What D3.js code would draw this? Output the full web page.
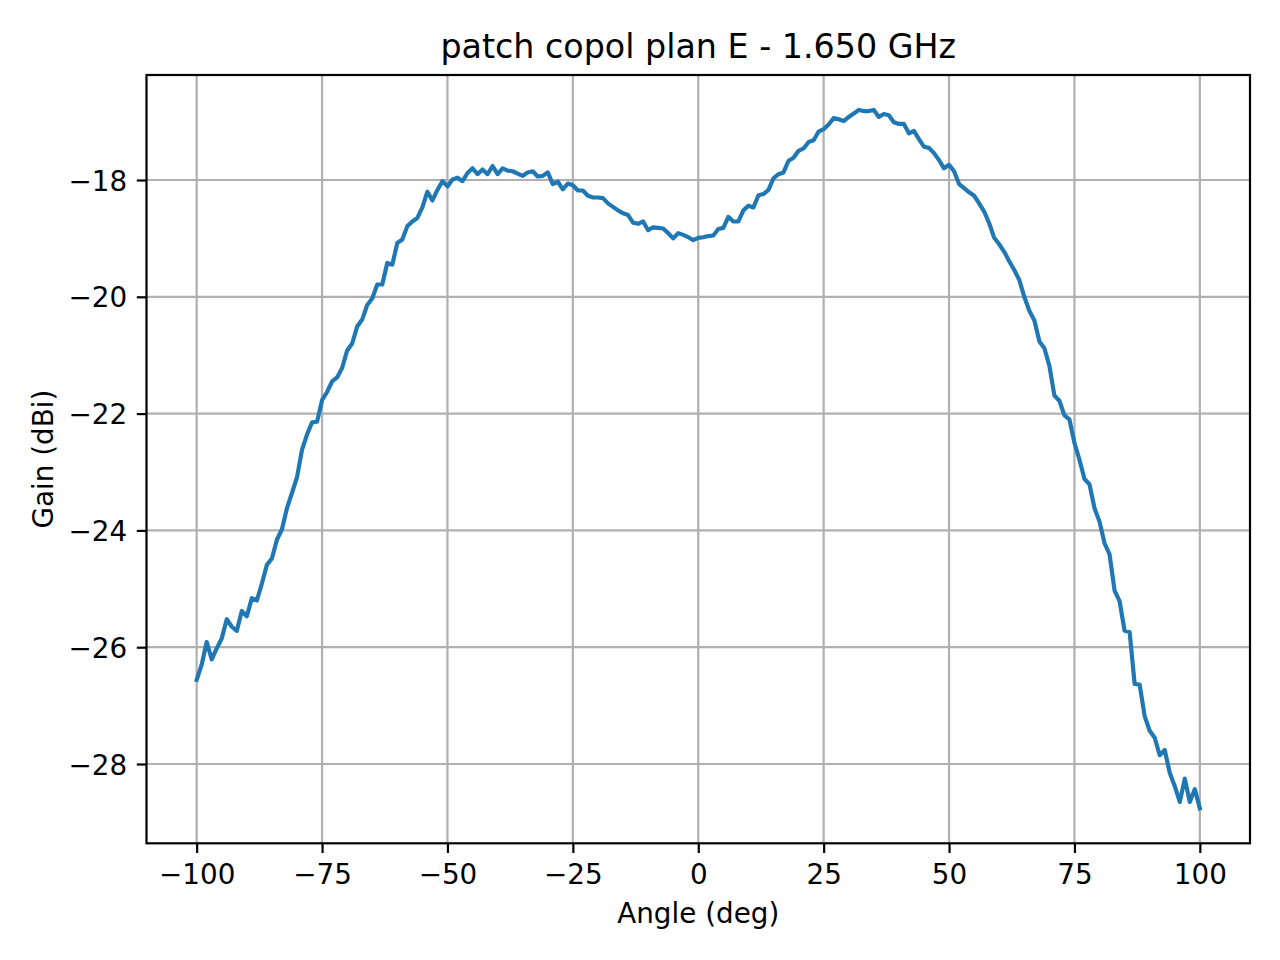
<!DOCTYPE html>
<html>
<head>
<meta charset="utf-8">
<script src="https://cdn.jsdelivr.net/npm/d3@7"></script>
<style>
  html, body { margin: 0; padding: 0; background: #ffffff; }
  svg { display: block; }
  text { font-family: "DejaVu Sans", sans-serif; fill: #000; }
</style>
</head>
<body>
<svg id="chart" width="1280" height="960"></svg>
<script>
// ---- data ----
const titleText = "patch copol plan E - 1.650 GHz";
const xLabelText = "Angle (deg)";
const yLabelText = "Gain (dBi)";

const angles = [
  -100, -99, -98, -97, -96, -95, -94, -93, -92, -91,
  -90, -89, -88, -87, -86, -85, -84, -83, -82, -81,
  -80, -79, -78, -77, -76, -75, -74, -73, -72, -71,
  -70, -69, -68, -67, -66, -65, -64, -63, -62, -61,
  -60, -59, -58, -57, -56, -55, -54, -53, -52, -51,
  -50, -49, -48, -47, -46, -45, -44, -43, -42, -41,
  -40, -39, -38, -37, -36, -35, -34, -33, -32, -31,
  -30, -29, -28, -27, -26, -25, -24, -23, -22, -21,
  -20, -19, -18, -17, -16, -15, -14, -13, -12, -11,
  -10, -9, -8, -7, -6, -5, -4, -3, -2, -1,
  0, 1, 2, 3, 4, 5, 6, 7, 8, 9,
  10, 11, 12, 13, 14, 15, 16, 17, 18, 19,
  20, 21, 22, 23, 24, 25, 26, 27, 28, 29,
  30, 31, 32, 33, 34, 35, 36, 37, 38, 39,
  40, 41, 42, 43, 44, 45, 46, 47, 48, 49,
  50, 51, 52, 53, 54, 55, 56, 57, 58, 59,
  60, 61, 62, 63, 64, 65, 66, 67, 68, 69,
  70, 71, 72, 73, 74, 75, 76, 77, 78, 79,
  80, 81, 82, 83, 84, 85, 86, 87, 88, 89,
  90, 91, 92, 93, 94, 95, 96, 97, 98, 99,
  100
];

const gain = [
  -26.56, -26.30, -25.91, -26.21, -26.02, -25.85, -25.52, -25.65, -25.72, -25.38,
  -25.47, -25.16, -25.20, -24.91, -24.59, -24.48, -24.16, -23.98, -23.62, -23.36,
  -23.09, -22.62, -22.36, -22.15, -22.14, -21.77, -21.63, -21.45, -21.38, -21.22,
  -20.92, -20.80, -20.51, -20.39, -20.14, -20.03, -19.79, -19.79, -19.42, -19.45,
  -19.08, -19.02, -18.79, -18.71, -18.65, -18.47, -18.20, -18.35, -18.17, -18.02,
  -18.11, -17.99, -17.96, -18.02, -17.88, -17.80, -17.90, -17.82, -17.90, -17.76,
  -17.90, -17.80, -17.84, -17.85, -17.89, -17.93, -17.87, -17.85, -17.94, -17.93,
  -17.87, -18.07, -18.03, -18.16, -18.06, -18.09, -18.18, -18.18, -18.27, -18.30,
  -18.30, -18.31, -18.40, -18.46, -18.52, -18.57, -18.60, -18.73, -18.75, -18.71,
  -18.86, -18.81, -18.82, -18.83, -18.91, -19.00, -18.91, -18.94, -18.98, -19.03,
  -18.99, -18.98, -18.96, -18.95, -18.84, -18.82, -18.63, -18.71, -18.71, -18.52,
  -18.44, -18.47, -18.26, -18.24, -18.17, -17.97, -17.90, -17.87, -17.67, -17.62,
  -17.50, -17.46, -17.35, -17.32, -17.17, -17.13, -17.05, -16.94, -16.96, -16.99,
  -16.92, -16.86, -16.80, -16.82, -16.82, -16.80, -16.92, -16.87, -16.89, -17.01,
  -17.04, -17.04, -17.20, -17.16, -17.30, -17.43, -17.45, -17.54, -17.66, -17.80,
  -17.74, -17.85, -18.07, -18.14, -18.21, -18.27, -18.40, -18.54, -18.74, -18.99,
  -19.10, -19.23, -19.39, -19.54, -19.71, -20.00, -20.24, -20.40, -20.76, -20.88,
  -21.18, -21.69, -21.78, -22.03, -22.10, -22.50, -22.79, -23.12, -23.21, -23.62,
  -23.85, -24.22, -24.41, -25.03, -25.21, -25.72, -25.74, -26.63, -26.64, -27.18,
  -27.43, -27.55, -27.85, -27.76, -28.15, -28.38, -28.65, -28.25, -28.65, -28.43,
  -28.76
];

const xTicks = [-100, -75, -50, -25, 0, 25, 50, 75, 100];
const yTicks = [-28, -26, -24, -22, -20, -18];

// ---- layout ----
const W = 1280, H = 960;
const plot = { left: 146.5, right: 1250, top: 75, bottom: 843.3 };
const svg = d3.select("#chart");

// matplotlib-like 5% margins
const xMin = d3.min(angles), xMax = d3.max(angles);
const yMin = d3.min(gain), yMax = d3.max(gain);
const xPad = (xMax - xMin) * 0.05, yPad = (yMax - yMin) * 0.05;

const x = d3.scaleLinear().domain([xMin - xPad, xMax + xPad]).range([plot.left, plot.right]);
const y = d3.scaleLinear().domain([yMin - yPad, yMax + yPad]).range([plot.bottom, plot.top]);

const fmt = v => (v < 0 ? "\u2212" + Math.abs(v) : String(v));

// grid
const grid = svg.append("g");
grid.selectAll("line.gx").data(xTicks).join("line")
  .attr("x1", d => x(d)).attr("x2", d => x(d))
  .attr("y1", plot.top).attr("y2", plot.bottom)
  .attr("stroke", "#b0b0b0").attr("stroke-width", 2.2);
grid.selectAll("line.gy").data(yTicks).join("line")
  .attr("y1", d => y(d)).attr("y2", d => y(d))
  .attr("x1", plot.left).attr("x2", plot.right)
  .attr("stroke", "#b0b0b0").attr("stroke-width", 2.2);

// line
const pts = angles.map((a, i) => [a, gain[i]]);
svg.append("path")
  .datum(pts)
  .attr("fill", "none")
  .attr("stroke", "#1f77b4")
  .attr("stroke-width", 4.17)
  .attr("stroke-linejoin", "round")
  .attr("stroke-linecap", "square")
  .attr("d", d3.line().x(d => x(d[0])).y(d => y(d[1])));

// axes
const xAxis = svg.append("g")
  .attr("transform", `translate(0,${plot.bottom})`)
  .call(d3.axisBottom(x).tickValues(xTicks).tickFormat(fmt).tickSize(9.7).tickPadding(9.7));
const yAxis = svg.append("g")
  .attr("transform", `translate(${plot.left},0)`)
  .call(d3.axisLeft(y).tickValues(yTicks).tickFormat(fmt).tickSize(9.7).tickPadding(9.7));

[xAxis, yAxis].forEach(g => {
  g.select(".domain").remove();
  g.selectAll(".tick line").attr("stroke", "#000").attr("stroke-width", 2.2);
  g.selectAll(".tick text")
    .attr("fill", "#000")
    .style("font-family", "'DejaVu Sans', sans-serif")
    .style("font-size", "27.8px");
  g.attr("font-size", null).attr("font-family", null);
});
xAxis.selectAll(".tick text").attr("dy", "0.78em");
yAxis.selectAll(".tick text").attr("dy", "0.36em");

// spines
svg.append("rect")
  .attr("x", plot.left).attr("y", plot.top)
  .attr("width", plot.right - plot.left).attr("height", plot.bottom - plot.top)
  .attr("fill", "none").attr("stroke", "#000").attr("stroke-width", 2.2);

// texts
const cx = (plot.left + plot.right) / 2;
svg.append("text")
  .attr("x", cx).attr("y", 58.3)
  .attr("text-anchor", "middle")
  .style("font-size", "33.3px")
  .text(titleText);

svg.append("text")
  .attr("x", cx).attr("y", 923)
  .attr("text-anchor", "middle")
  .style("font-size", "27.8px")
  .text(xLabelText);

svg.append("text")
  .attr("transform", `translate(53,${(plot.top + plot.bottom) / 2}) rotate(-90)`)
  .attr("text-anchor", "middle")
  .style("font-size", "27.8px")
  .text(yLabelText);
</script>
</body>
</html>
